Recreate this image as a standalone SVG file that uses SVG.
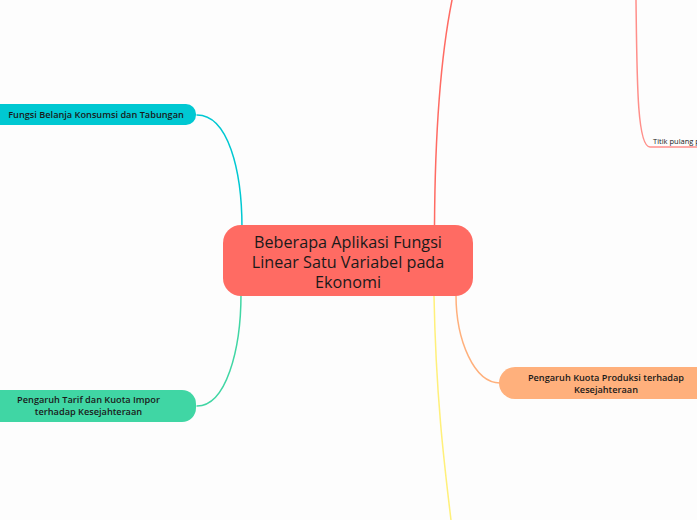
<svg xmlns="http://www.w3.org/2000/svg" width="697" height="520" viewBox="0 0 697 520">
<style>
.t{font-family:"Open Sans",Lato,sans-serif;fill:#1a1a1a;text-anchor:middle}
.s{font-size:9.2px;font-weight:600}
.c{font-size:16.2px;font-weight:500}
.e{fill:none;stroke-width:1.5;stroke-linecap:round}
</style>
<rect width="697" height="520" fill="#fdfdfd"/>
<g id="connectors">
<path class="e" d="M197,115 C228,115 242,170 242,228" stroke="#00c8d2"/>
<path class="e" d="M197,406 C226,406 241,350 241,294" stroke="#40d6a4"/>
<path class="e" d="M456,295 C456,340 474,383 500,383" stroke="#ffb07c"/>
<path class="e" d="M434.5,226 C435,130 442,50 452,0" stroke="#ff6b63"/>
<path class="e" d="M434,296 C436,400 445,470 451,520" stroke="#fff07a"/>
<path class="e" d="M636,0 C637,80 637,147 650,147 L697,147" stroke="#ff8f8a" stroke-width="1.2"/>
</g>
<g id="node-center">
<rect x="223" y="225" width="250" height="71" rx="18" fill="#ff6b63"/>
<text class="t c" x="348" y="248">Beberapa Aplikasi Fungsi</text>
<text class="t c" x="348" y="268">Linear Satu Variabel pada</text>
<text class="t c" x="348" y="288">Ekonomi</text>
</g>
<g id="node-konsumsi">
<rect x="-20" y="104" width="216" height="21" rx="10" fill="#00c8d2"/>
<text class="t s" x="96" y="118">Fungsi Belanja Konsumsi dan Tabungan</text>
</g>
<g id="node-tarif">
<rect x="-20" y="390" width="216" height="32" rx="14" fill="#40d6a4"/>
<text class="t s" x="88.5" y="402.5">Pengaruh Tarif dan Kuota Impor</text>
<text class="t s" x="88.5" y="414.5">terhadap Kesejahteraan</text>
</g>
<g id="node-kuota">
<rect x="499" y="367" width="230" height="32" rx="16" fill="#ffb07c"/>
<text class="t s" x="606" y="380.5">Pengaruh Kuota Produksi terhadap</text>
<text class="t s" x="606" y="392.5">Kesejahteraan</text>
</g>
<g id="node-titik">
<text x="653" y="144" style="font-family:'Open Sans',sans-serif;font-size:7.5px;fill:#1a1a1a">Titik pulang pokok</text>
</g>
</svg>
